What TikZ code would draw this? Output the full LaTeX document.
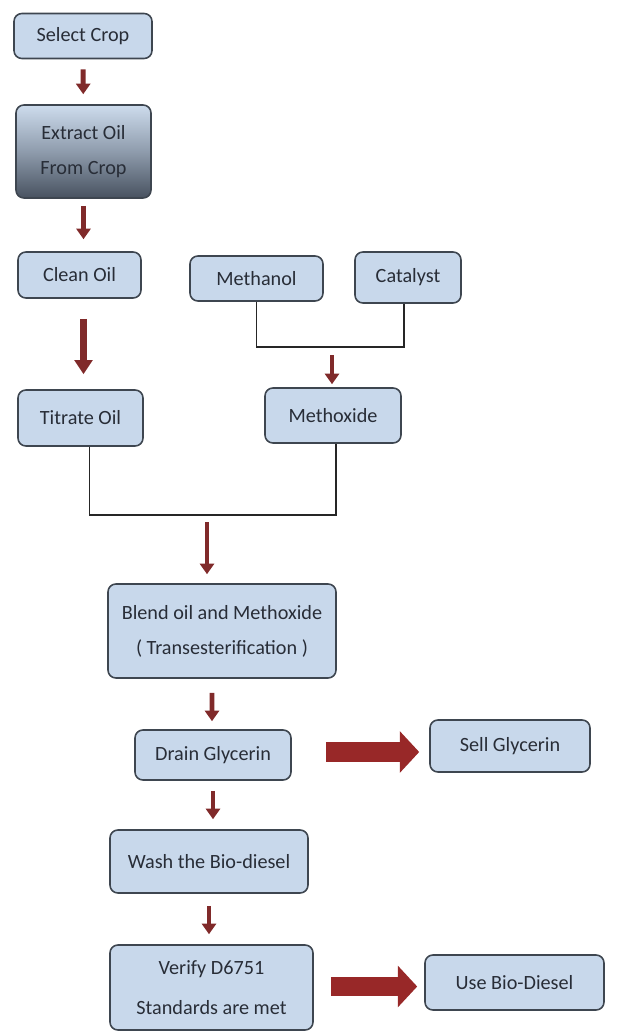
\documentclass[tikz,border=0pt]{standalone}
\usepackage{xcolor}
\usepackage{fontspec}
\setmainfont{Carlito}
\usepackage{tikz}
\usetikzlibrary{arrows.meta, positioning, calc}
\definecolor{boxfill}{RGB}{200,216,235}
\definecolor{boxline}{RGB}{62,70,80}
\definecolor{boxtext}{RGB}{40,45,55}
\definecolor{shadebot}{RGB}{72,82,96}
\definecolor{arrred}{RGB}{128,42,42}
\definecolor{bigred}{RGB}{152,40,40}
\tikzset{
  stepbox/.style={rectangle, draw=boxline, fill=boxfill, align=center,
    font=\fontsize{11.5}{20}\selectfont, text=boxtext,
    rounded corners=4.5pt, line width=0.9pt, inner sep=0pt},
  shadebox/.style={stepbox, top color=boxfill!90!white, bottom color=shadebot,
    middle color=boxfill!55!shadebot},
  arrow/.style={-{Triangle[width=8pt,length=6pt]}, line width=2.8pt, color=arrred,
    shorten <=0.2cm, shorten >=0.2cm},
  bigarrow/.style={-{Triangle[width=23pt,length=11pt]}, line width=11pt, color=bigred},
  line/.style={line width=0.6pt, color=black!85}
}

\begin{document}
\begin{tikzpicture}
  \useasboundingbox (0,0) rectangle (12.6,-20.64);
  % Main column
  \node[stepbox, minimum width=2.76cm, minimum height=0.9cm] (select) at (1.66,-0.72) {Select Crop};
  \node[shadebox, minimum width=2.7cm, minimum height=1.86cm] (extract) at (1.67,-3.03) {Extract Oil\\From Crop};
  \node[stepbox, minimum width=2.46cm, minimum height=0.92cm] (clean) at (1.59,-5.5) {Clean Oil};
  \node[stepbox, minimum width=2.5cm, minimum height=1.12cm] (titrate) at (1.61,-8.36) {Titrate Oil};
  % Methoxide branch
  \node[stepbox, minimum width=2.66cm, minimum height=0.9cm] (methanol) at (5.13,-5.57) {Methanol};
  \node[stepbox, minimum width=2.12cm, minimum height=1.02cm] (catalyst) at (8.16,-5.55) {Catalyst};
  \node[stepbox, minimum width=2.72cm, minimum height=1.1cm] (methoxide) at (6.66,-8.31) {Methoxide};
  % Lower column
  \node[stepbox, minimum width=4.56cm, minimum height=1.88cm] (blend) at (4.44,-12.62) {Blend oil and Methoxide\\( Transesterification )};
  \node[stepbox, minimum width=3.12cm, minimum height=1.0cm] (drain) at (4.26,-15.1) {Drain Glycerin};
  \node[stepbox, minimum width=3.2cm, minimum height=1.04cm] (sell) at (10.2,-14.92) {Sell Glycerin};
  \node[stepbox, minimum width=3.96cm, minimum height=1.26cm] (wash) at (4.18,-17.23) {Wash the Bio-diesel};
  \node[stepbox, minimum width=4.06cm, minimum height=1.7cm, font=\fontsize{11.5}{23}\selectfont] (verify) at (4.23,-19.75) {Verify D6751\\Standards are met};
  \node[stepbox, minimum width=3.58cm, minimum height=1.1cm] (use) at (10.29,-19.65) {Use Bio-Diesel};
  % Joining lines
  \coordinate (mixjoin) at (6.64,-6.94);
  \coordinate (oiljoin) at (4.14,-10.3);
  \draw[line] (methanol.south) |- (mixjoin) -| ([xshift=-0.08cm]catalyst.south);
  \draw[line] ([xshift=0.18cm]titrate.south) |- (oiljoin) -| ([xshift=0.06cm]methoxide.south);
  % Arrows
  \draw[arrow] (select) -- (extract);
  \draw[arrow, shorten <=0.14cm, shorten >=0.24cm] (extract) -- (extract |- clean.north);
  \draw[arrow, line width=3.6pt, -{Triangle[width=10pt,length=8pt]}, shorten <=0.4cm, shorten >=0.3cm] (extract |- clean.south) -- (extract |- titrate.north);
  \draw[arrow, shorten <=0.16cm, shorten >=0.06cm] (mixjoin) -- (mixjoin |- methoxide.north);
  \draw[arrow, shorten <=0.14cm, shorten >=0.18cm] (oiljoin) -- (oiljoin |- blend.north);
  \draw[arrow, shorten <=0.28cm, shorten >=0.16cm] ([xshift=-0.2cm]blend.south) -- ([xshift=-0.02cm]drain.north);
  \draw[arrow] (drain) -- (drain |- wash.north);
  \draw[arrow, shorten <=0.24cm] (wash) -- (wash |- verify.north);
  \draw[bigarrow, shorten <=0.68cm, shorten >=0.2cm] ([yshift=0.06cm]drain.east) -- ([yshift=0.06cm]drain.east -| sell.west);
  \draw[bigarrow, shorten <=0.34cm, shorten >=0.14cm] ([yshift=0.02cm]verify.east) -- ([yshift=0.02cm]verify.east -| use.west);
\end{tikzpicture}
\end{document}
